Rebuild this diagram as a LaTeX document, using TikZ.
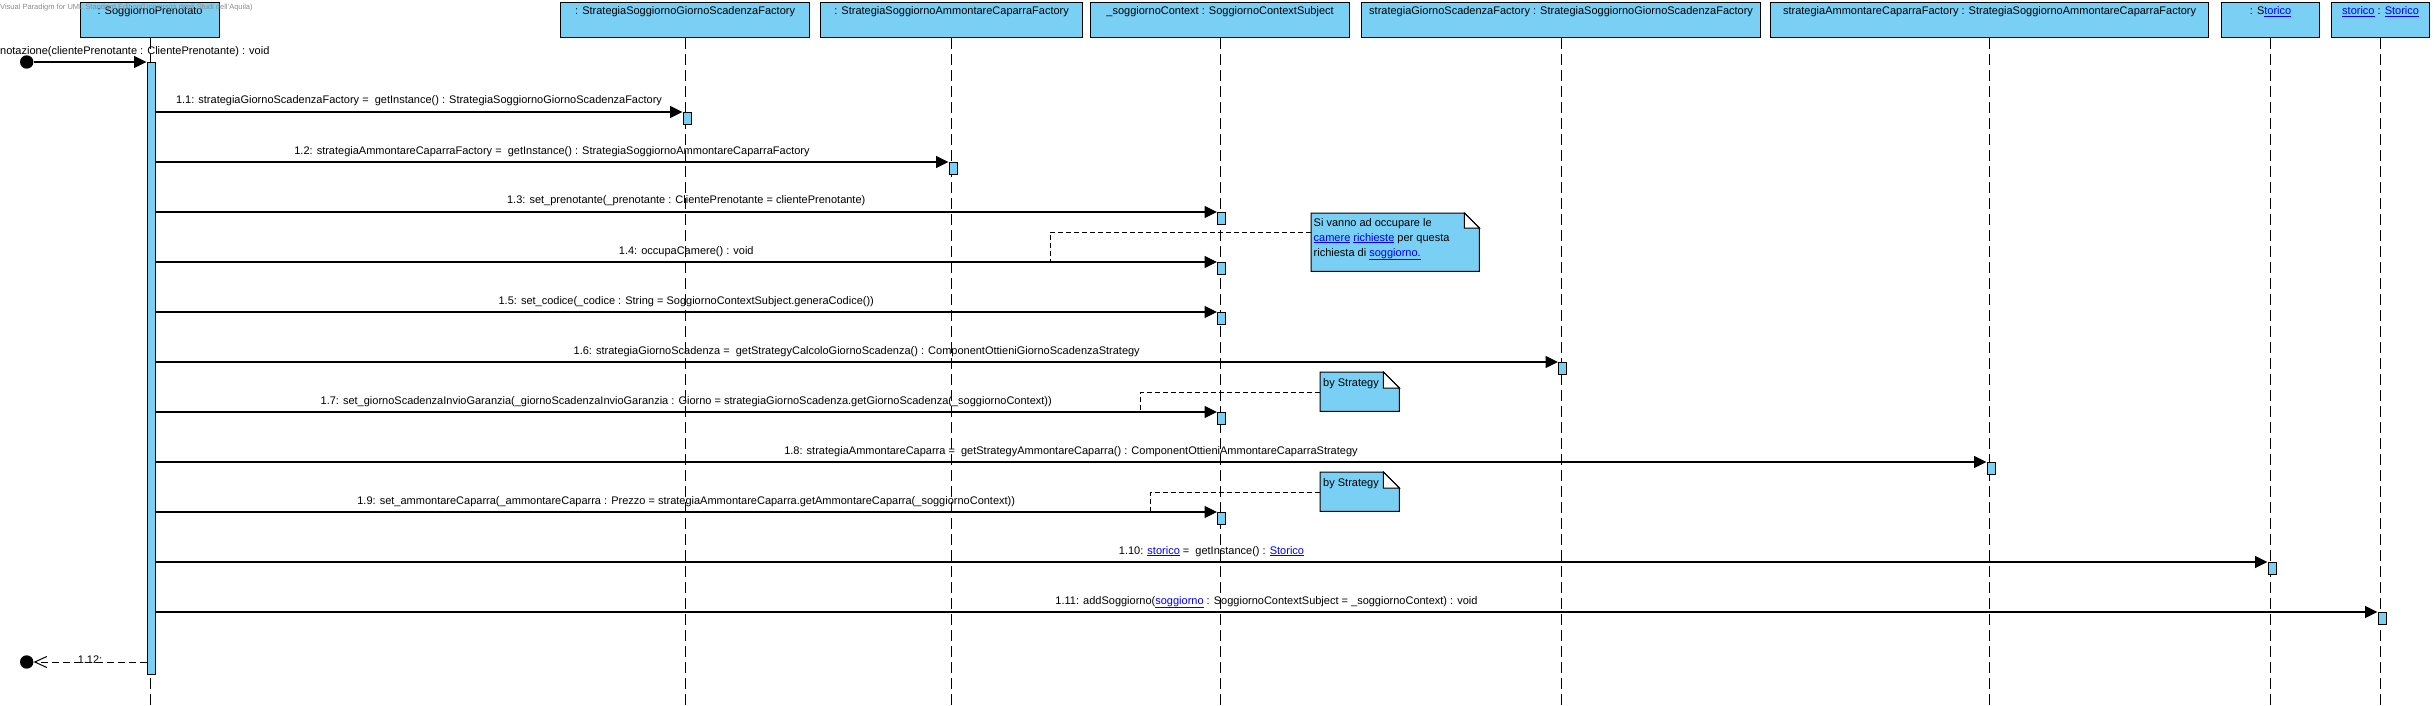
\documentclass[tikz,border=0pt]{standalone}
\usepackage{fontspec}
\setmainfont{Liberation Sans}
\usetikzlibrary{arrows.meta}
\definecolor{vpblue}{RGB}{122,207,245}
\definecolor{lnkblue}{RGB}{0,0,238}
\definecolor{wmgray}{RGB}{140,140,140}
\newcommand\lnk[1]{\textcolor{lnkblue}{\underline{#1}}}
\begin{document}
\begin{tikzpicture}[x=1pt,y=-1pt,
  every node/.style={font=\fontsize{11}{13}\selectfont},
  lifebox/.style={draw=black,line width=1.2pt,fill=vpblue,minimum height=35pt,inner sep=0pt,anchor=north west},
  boxlabel/.style={anchor=base,inner sep=0pt},
  lifeline/.style={draw=black,line width=0.9pt,dash pattern=on 11pt off 5pt},
  actbar/.style={draw=black,line width=1pt,fill=vpblue,minimum width=8pt,minimum height=12pt,inner sep=0pt,anchor=north},
  msg/.style={draw=black,line width=1.2pt,-{Triangle[length=12.5pt,width=12pt]}},
  retmsg/.style={draw=black,line width=1pt,dash pattern=on 7pt off 4pt,-{Straight Barb[length=12pt,width=11pt,line width=1pt]}},
  msglabel/.style={anchor=base,yshift=8pt,inner sep=0pt},
  dot/.style={circle,fill=black,minimum size=13.4pt,inner sep=0pt},
  notebox/.style={anchor=north west,inner sep=0pt,draw=none},
  notebody/.style={draw=black,line width=1pt,fill=vpblue},
  noteflap/.style={draw=black,line width=1pt,fill=white},
  noteline/.style={draw=black,line width=1pt,dash pattern=on 5pt off 3pt},
  notetext/.style={anchor=base west,inner sep=0pt}
]
\useasboundingbox[fill=white] (0,0) rectangle (2434,706);
\coordinate (bottom) at (0,706);

% lifeline heads
\node[lifebox,minimum width=139pt] (b1) at (80,2) {};
\node[lifebox,minimum width=249pt] (b2) at (560,2) {};
\node[lifebox,minimum width=262pt] (b3) at (820,2) {};
\node[lifebox,minimum width=259pt] (b4) at (1090,2) {};
\node[lifebox,minimum width=399pt] (b5) at (1361,2) {};
\node[lifebox,minimum width=438pt] (b6) at (1770,2) {};
\node[lifebox,minimum width=98pt] (b7) at (2221,2) {};
\node[lifebox,minimum width=98pt] (b8) at (2331,2) {};

\node[boxlabel] (t1) at ([yshift=-12.5pt]b1.north) {: SoggiornoPrenotato};
\node[boxlabel] (t2) at ([yshift=-12.5pt]b2.north) {: StrategiaSoggiornoGiornoScadenzaFactory};
\node[boxlabel] (t3) at ([yshift=-12.5pt]b3.north) {: StrategiaSoggiornoAmmontareCaparraFactory};
\node[boxlabel] (t4) at ([yshift=-12.5pt]b4.north) {\_soggiornoContext : SoggiornoContextSubject};
\node[boxlabel] (t5) at ([yshift=-12.5pt]b5.north) {strategiaGiornoScadenzaFactory : StrategiaSoggiornoGiornoScadenzaFactory};
\node[boxlabel] (t6) at ([yshift=-12.5pt]b6.north) {strategiaAmmontareCaparraFactory : StrategiaSoggiornoAmmontareCaparraFactory};
\node[boxlabel] (t7) at ([yshift=-12.5pt]b7.north) {: S\lnk{torico}};
\node[boxlabel] (t8) at ([yshift=-12.5pt]b8.north) {\lnk{storico} : \lnk{Storico}};

% lifelines
\foreach \b in {b1,b2,b3,b4,b5,b6,b7,b8}
  \draw[lifeline] (\b.south) -- (\b.south |- bottom);

% activation bars
\node[actbar,minimum height=612pt] (a0) at (151,62) {};
\node[actbar] (a1) at (687,112) {};
\node[actbar] (a2) at (953,162) {};
\node[actbar] (a3) at (1221.5,212) {};
\node[actbar] (a4) at (1221.5,262) {};
\node[actbar] (a5) at (1221.5,312) {};
\node[actbar] (a6) at (1562.5,362) {};
\node[actbar] (a7) at (1221.5,412) {};
\node[actbar] (a8) at (1991,462) {};
\node[actbar] (a9) at (1221.5,512) {};
\node[actbar] (a10) at (2272,562) {};
\node[actbar] (a11) at (2382,612) {};

% found message
\node[dot] (s0) at (26.7,62) {};
\draw[msg] (s0) -- (a0.north west);
\node[anchor=base west,inner sep=0pt] (l0) at (0,54.7) {notazione(clientePrenotante : ClientePrenotante) : void};

% messages
\draw[msg] (a0.east |- a1.north west) -- node[msglabel] {1.1: strategiaGiornoScadenzaFactory = \ getInstance() : StrategiaSoggiornoGiornoScadenzaFactory} (a1.north west);
\draw[msg] (a0.east |- a2.north west) -- node[msglabel] {1.2: strategiaAmmontareCaparraFactory = \ getInstance() : StrategiaSoggiornoAmmontareCaparraFactory} (a2.north west);
\draw[msg] (a0.east |- a3.north west) -- node[msglabel] {1.3: set\_prenotante(\_prenotante : ClientePrenotante = clientePrenotante)} (a3.north west);
\draw[msg] (a0.east |- a4.north west) -- node[msglabel] {1.4: occupaCamere() : void} (a4.north west);
\draw[msg] (a0.east |- a5.north west) -- node[msglabel] {1.5: set\_codice(\_codice : String = SoggiornoContextSubject.generaCodice())} (a5.north west);
\draw[msg] (a0.east |- a6.north west) -- node[msglabel] {1.6: strategiaGiornoScadenza = \ getStrategyCalcoloGiornoScadenza() : ComponentOttieniGiornoScadenzaStrategy} (a6.north west);
\draw[msg] (a0.east |- a7.north west) -- node[msglabel] {1.7: set\_giornoScadenzaInvioGaranzia(\_giornoScadenzaInvioGaranzia : Giorno = strategiaGiornoScadenza.getGiornoScadenza(\_soggiornoContext))} (a7.north west);
\draw[msg] (a0.east |- a8.north west) -- node[msglabel] {1.8: strategiaAmmontareCaparra = \ getStrategyAmmontareCaparra() : ComponentOttieniAmmontareCaparraStrategy} (a8.north west);
\draw[msg] (a0.east |- a9.north west) -- node[msglabel] {1.9: set\_ammontareCaparra(\_ammontareCaparra : Prezzo = strategiaAmmontareCaparra.getAmmontareCaparra(\_soggiornoContext))} (a9.north west);
\draw[msg] (a0.east |- a10.north west) -- node[msglabel] {1.10: \lnk{storico} = \ getInstance() : \lnk{Storico}} (a10.north west);
\draw[msg] (a0.east |- a11.north west) -- node[msglabel] {1.11: addSoggiorno(\lnk{soggiorno} : SoggiornoContextSubject = \_soggiornoContext) : void} (a11.north west);

% return message
\node[dot] (e0) at (26.7,662) {};
\draw[retmsg] (a0.west |- e0) -- node[anchor=center,yshift=2pt,inner sep=0pt] {1.12:} (e0);

% notes
\node[notebox,minimum width=168pt,minimum height=58pt] (n1) at (1311,213) {};
\node[notebox,minimum width=79pt,minimum height=39pt] (n2) at (1320,372) {};
\node[notebox,minimum width=79pt,minimum height=39pt] (n3) at (1320,472) {};
\foreach \n/\f in {n1/15,n2/16,n3/16}{
  \draw[notebody] (\n.north west) -- ([xshift=-\f pt]\n.north east) -- ([yshift=-\f pt]\n.north east) -- (\n.south east) -- (\n.south west) -- cycle;
  \draw[noteflap] ([xshift=-\f pt]\n.north east) -- ([xshift=-\f pt,yshift=-\f pt]\n.north east) -- ([yshift=-\f pt]\n.north east) -- cycle;
}
\node[notetext] (n1a) at (1313.5,226) {Si vanno ad occupare le};
\node[notetext] (n1b) at (1313.5,241) {\lnk{camere} \lnk{richieste} per questa};
\node[notetext] (n1c) at (1313.5,256) {richiesta di \lnk{soggiorno.}};
\node[notetext] (n2a) at (1323,386) {by Strategy};
\node[notetext] (n3a) at (1323,486) {by Strategy};

\coordinate (c4) at (1050,262);
\coordinate (c7) at (1140.7,412);
\coordinate (c9) at (1150.7,512);
\draw[noteline] ([yshift=-19pt]n1.north west) -| (c4);
\draw[noteline] ([yshift=-20pt]n2.north west) -| (c7);
\draw[noteline] ([yshift=-20pt]n3.north west) -| (c9);

% watermark
\node[anchor=base west,inner sep=0pt,text=wmgray,font=\fontsize{7.5}{9}\selectfont] (wm) at (0,10) {Visual Paradigm for UML Standard Edition(Università degli Studi dell'Aquila)};
\end{tikzpicture}
\end{document}
